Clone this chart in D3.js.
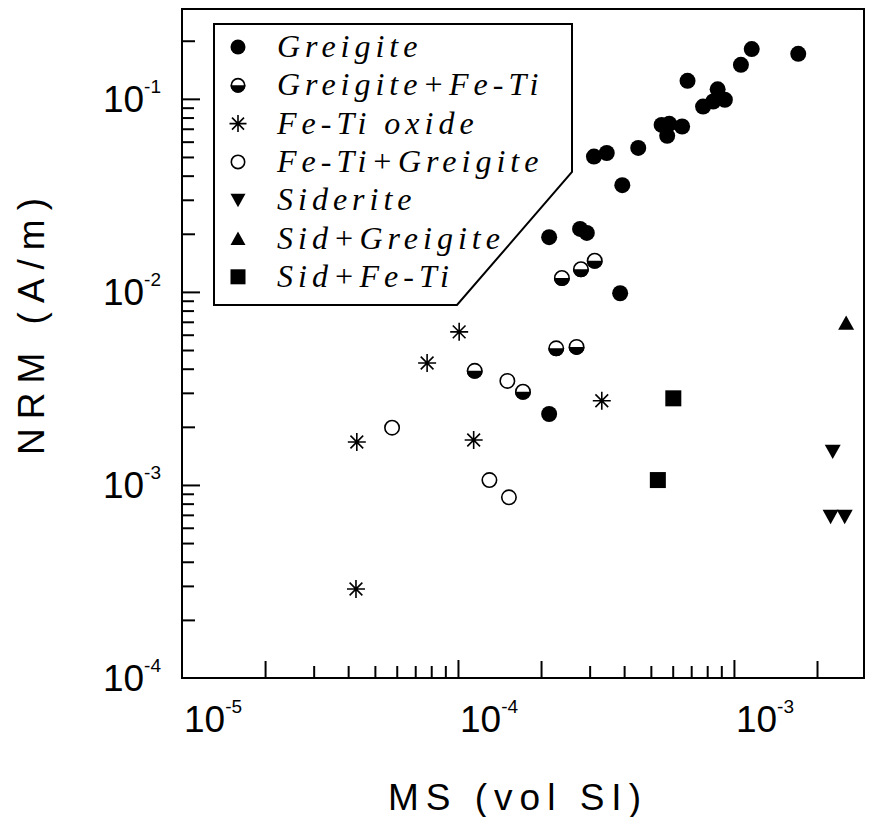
<!DOCTYPE html>
<meta charset="utf-8">
<style>
body {
  margin: 0;
  background-color: #fff;
}
.frame, .legendBox {
  fill: none;
  stroke: #000;
  stroke-width: 2px;
}
.axis path {
  display: none;
}
.axis line {
  stroke: #000;
  stroke-width: 2px;
}
.tickLabel {
  font-family: "Liberation Sans", Arial, sans-serif;
  fill: #000;
}
.axisTitle {
  font-family: "Liberation Sans", Arial, sans-serif;
  font-size: 37px;
  fill: #000;
}
.legendText {
  font-family: "Liberation Serif", "Times New Roman", serif;
  font-style: italic;
  font-size: 32px;
  letter-spacing: 5px;
  fill: #000;
}
</style>
<svg class="chart" width="870" height="817"></svg>

<script src="https://cdn.jsdelivr.net/npm/d3@7"></script>
<script>
// data: [MS (vol SI), NRM (A/m)]
var greigite = [
  [1.16e-3, 0.181], [1.71e-3, 0.171], [1.06e-3, 0.150], [6.79e-4, 0.124],
  [8.73e-4, 0.112], [9.27e-4, 0.0989], [8.41e-4, 0.0969], [7.73e-4, 0.0912],
  [5.47e-4, 0.0733], [5.83e-4, 0.0742], [6.49e-4, 0.0719], [5.73e-4, 0.0643],
  [4.50e-4, 0.0557], [3.46e-4, 0.0524], [3.11e-4, 0.0502], [3.94e-4, 0.0357],
  [2.14e-4, 0.0192], [2.77e-4, 0.0212], [2.93e-4, 0.0202], [3.87e-4, 0.00984],
  [2.14e-4, 0.00233]
];
var greigiteFeTi = [
  [2.38e-4, 0.0118], [2.79e-4, 0.0131], [3.13e-4, 0.0145], [2.27e-4, 0.00510],
  [2.69e-4, 0.00519], [1.15e-4, 0.00390], [1.72e-4, 0.00304]
];
var feTiOxide = [
  [1.01e-4, 0.00621], [7.73e-5, 0.00428], [4.30e-5, 0.00167], [1.14e-4, 0.00171],
  [3.32e-4, 0.00273], [4.27e-5, 0.000289]
];
var feTiGreigite = [
  [1.51e-4, 0.00346], [5.77e-5, 0.00198], [1.30e-4, 0.00106], [1.53e-4, 0.000863]
];
var siderite = [[2.28e-3, 0.00149], [2.24e-3, 0.000686], [2.52e-3, 0.000686]];
var sidGreigite = [[2.55e-3, 0.0069]];
var sidFeTi = [[6.03e-4, 0.00281], [5.30e-4, 0.00106]];

var legendNames = ["Greigite", "Greigite+Fe-Ti", "Fe-Ti oxide", "Fe-Ti+Greigite",
                   "Siderite", "Sid+Greigite", "Sid+Fe-Ti"];
var symbolKinds = ["filled", "half", "star", "open", "down", "up", "square"];
var seriesList = [greigite, greigiteFeTi, feTiOxide, feTiGreigite, siderite, sidGreigite, sidFeTi];

var xDecades = [1e-5, 1e-4, 1e-3];
var xDecadeLabels = ["-5", "-4", "-3"];
var yDecades = [1e-4, 1e-3, 1e-2, 1e-1];
var yDecadeLabels = ["-4", "-3", "-2", "-1"];

var svg = d3.select(".chart");
var plotL = 182, plotR = 864, plotT = 9, plotB = 678;

var x = d3.scaleLog().domain([1e-5, 2.96e-3]).range([plotL, plotR]);
var y = d3.scaleLog().domain([1e-4, 0.292]).range([plotB, plotT]);

// minor ticks: 2..9 times each decade inside the domain
var xTwos = [], xMinor = [], yTwos = [], yMinor = [];
[1e-5, 1e-4, 1e-3].forEach(function(d) {
  for (var k = 2; k < 10; k++) {
    var v = d * k;
    if (v > x.domain()[1]) continue;
    if (k == 2) xTwos.push(v); else xMinor.push(v);
  }
});
[1e-4, 1e-3, 1e-2, 1e-1].forEach(function(d) {
  for (var k = 2; k < 10; k++) {
    var v = d * k;
    if (v > y.domain()[1]) continue;
    if (k == 2) yTwos.push(v); else yMinor.push(v);
  }
});

function xAxis(vals, len) {
  svg.append("g")
    .attr("class", "x axis")
    .attr("transform", "translate(0," + plotB + ")")
    .call(d3.axisBottom(x).tickValues(vals).tickSize(-len).tickFormat(""));
}
function yAxis(vals, len) {
  svg.append("g")
    .attr("class", "y axis")
    .attr("transform", "translate(" + plotL + ",0)")
    .call(d3.axisLeft(y).tickValues(vals).tickSize(-len).tickFormat(""));
}
xAxis(xMinor, 12);
xAxis(xTwos, 17);
xAxis(xDecades.slice(1), 18);
yAxis(yMinor, 12);
yAxis(yTwos, 13);
yAxis(yDecades.slice(1), 18);

svg.append("rect")
  .attr("class", "frame")
  .attr("x", plotL).attr("y", plotT)
  .attr("width", plotR - plotL).attr("height", plotB - plotT);

// tick labels 10^n
var xl = svg.selectAll(".xLabel")
  .data(xDecades)
  .enter().append("text")
  .attr("class", "tickLabel")
  .attr("x", function(d) { return x(d) + 2; })
  .attr("y", 732);
xl.append("tspan").style("font-size", "37px").text("10");
xl.append("tspan").style("font-size", "19px").attr("dy", -19)
  .text(function(d, i) { return xDecadeLabels[i]; });

var yl = svg.selectAll(".yLabel")
  .data(yDecades)
  .enter().append("text")
  .attr("class", "tickLabel")
  .attr("text-anchor", "end")
  .attr("x", 161)
  .attr("y", function(d) { return y(d) + 13; });
yl.append("tspan").style("font-size", "37px").text("10");
yl.append("tspan").style("font-size", "19px").attr("dy", -19)
  .text(function(d, i) { return yDecadeLabels[i]; });

svg.append("text")
  .attr("class", "axisTitle")
  .attr("text-anchor", "middle")
  .attr("x", 518).attr("y", 810)
  .style("letter-spacing", "7px")
  .text("MS (vol SI)");
svg.append("text")
  .attr("class", "axisTitle")
  .attr("text-anchor", "middle")
  .attr("transform", "translate(44,322) rotate(-90)")
  .style("letter-spacing", "9px")
  .text("NRM (A/m)");

// symbols
function drawSymbol(g, kind, r) {
  if (kind == "filled") {
    g.append("circle").attr("r", r).attr("fill", "#000");
  } else if (kind == "open") {
    g.append("circle").attr("r", r - 0.8).attr("fill", "#fff").attr("stroke", "#000").attr("stroke-width", 1.6);
  } else if (kind == "half") {
    g.append("circle").attr("r", r - 0.8).attr("fill", "#fff").attr("stroke", "#000").attr("stroke-width", 1.6);
    g.append("path").attr("fill", "#000")
      .attr("d", "M" + (-r) + ",0 A" + r + "," + r + " 0 0 0 " + r + ",0 Z");
  } else if (kind == "star") {
    var a = r + 1, b = a * 0.7071;
    g.append("path").attr("stroke", "#000").attr("stroke-width", 1.6).attr("fill", "none")
      .attr("d", "M0," + (-a) + "V" + a + "M" + (-a) + ",0H" + a +
        "M" + (-b) + "," + (-b) + "L" + b + "," + b + "M" + (-b) + "," + b + "L" + b + "," + (-b));
  } else if (kind == "down") {
    g.append("path").attr("fill", "#000")
      .attr("d", "M" + (-r) + "," + (-r * 0.85) + "H" + r + "L0," + (r * 0.95) + "Z");
  } else if (kind == "up") {
    g.append("path").attr("fill", "#000")
      .attr("d", "M" + (-r) + "," + (r * 0.85) + "H" + r + "L0," + (-r * 0.95) + "Z");
  } else if (kind == "square") {
    g.append("rect").attr("fill", "#000")
      .attr("x", -r).attr("y", -r).attr("width", 2 * r).attr("height", 2 * r);
  }
}

seriesList.forEach(function(series, i) {
  svg.selectAll(".pt" + i)
    .data(series)
    .enter().append("g")
    .attr("class", "pt" + i)
    .attr("transform", function(d) { return "translate(" + x(d[0]) + "," + y(d[1]) + ")"; })
    .each(function() { drawSymbol(d3.select(this), symbolKinds[i], 8); });
});

// legend
svg.append("path")
  .attr("class", "legendBox")
  .style("fill", "#fff")
  .attr("d", "M214,24H572V172L457,305H214Z");

var rows = svg.selectAll(".legendRow")
  .data(legendNames)
  .enter().append("g")
  .attr("class", "legendRow")
  .attr("transform", function(d, i) { return "translate(0," + (47 + i * 38.3) + ")"; });
rows.append("g")
  .attr("transform", "translate(238,0)")
  .each(function(d, i) { drawSymbol(d3.select(this), symbolKinds[i], 7.5); });
rows.append("text")
  .attr("class", "legendText")
  .attr("x", 277)
  .attr("y", 10)
  .text(function(d) { return d; });
</script>
